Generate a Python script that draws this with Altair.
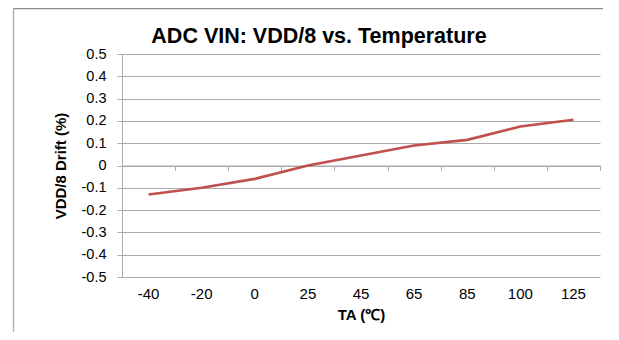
import altair as alt
import pandas as pd

temps = ["-40", "-20", "0", "25", "45", "65", "85", "100", "125"]
drift = [-0.13, -0.10, -0.06, 0.0, 0.045, 0.09, 0.115, 0.175, 0.205]
y_ticks = [-0.5, -0.4, -0.3, -0.2, -0.1, 0.0, 0.1, 0.2, 0.3, 0.4, 0.5]
title_text = ["ADC VIN: VDD/8 vs. Temperature"]

df = pd.DataFrame({"TA": temps, "drift": drift})
tdf = pd.DataFrame({"t": title_text})

FONT = "Liberation Sans"
GRID = "#ababab"
W, H = 478, 223

xscale = alt.Scale(type="band", paddingInner=0, paddingOuter=0)
yscale = alt.Scale(domain=[-0.5, 0.5], nice=False, zero=False)

y_axis = alt.Axis(values=y_ticks, title="VDD/8 Drift (%)",
                  labelExpr="datum.value == 0 ? '0' : toString(round(datum.value*10)/10)",
                  grid=True, gridColor=GRID, domain=True, domainColor=GRID,
                  ticks=True, tickColor=GRID, tickSize=5, labelPadding=11,
                  labelFont=FONT, labelFontSize=14.5, labelColor="#000000",
                  titleFont=FONT, titleFontSize=15, titleFontWeight="bold",
                  titleColor="#000000", titleX=-62, titleY=H / 2,
                  titleBaseline="middle", titleAngle=270)

base = alt.Chart(df)

zero_axis = base.mark_line(opacity=0).encode(
    x=alt.X("TA:N", sort=temps, scale=xscale, bandPosition=0.5,
            axis=alt.Axis(orient="bottom", offset=-H / 2, labels=False, title=None,
                          ticks=True, tickBand="extent", tickSize=5, tickColor=GRID,
                          domain=True, domainColor=GRID, grid=False)),
    y=alt.Y("drift:Q", scale=yscale, axis=y_axis),
)

line = base.mark_line(color="#c0504d", strokeWidth=2.6, clip=False).encode(
    x=alt.X("TA:N", sort=temps, scale=xscale, bandPosition=0.5,
            axis=alt.Axis(orient="bottom", title="TA (℃)", ticks=False, domain=False,
                          grid=False, labelAngle=0, labelPadding=9,
                          labelFont=FONT, labelFontSize=15, labelColor="#000000",
                          titleFont=FONT, titleFontSize=15, titleFontWeight="bold",
                          titleColor="#000000", titlePadding=6)),
    y=alt.Y("drift:Q", scale=yscale, axis=y_axis),
)

title = alt.Chart(tdf).mark_text(font=FONT, fontSize=21.5, fontWeight="bold",
                                 color="#000000", align="center",
                                 baseline="alphabetic").encode(
    text="t:N", x=alt.value(197), y=alt.value(-11))

frame_left = alt.Chart(tdf).mark_rule(color="#b4b4b4", strokeWidth=1.5).encode(
    x=alt.value(-108.5), y=alt.value(-45.5), y2=alt.value(300))
frame_top = alt.Chart(tdf).mark_rule(color="#8c8c8c", strokeWidth=1.5).encode(
    x=alt.value(-108.5), x2=alt.value(495.5), y=alt.value(-45.5))
frame_right = alt.Chart(tdf).mark_rule(color="#d0d0d0", strokeWidth=1).encode(
    x=alt.value(495.5), y=alt.value(-45.5), y2=alt.value(300))

chart = alt.layer(zero_axis, line, title, frame_left, frame_top, frame_right).resolve_axis(
    x="independent"
).properties(
    width=W, height=H,
    autosize=alt.AutoSizeParams(type="none"),
    padding={"left": 114, "top": 46, "right": 3, "bottom": 55},
    background="#ffffff",
).configure_view(stroke=None)

chart.save("out.html", embed_options={"renderer": "svg", "actions": False})
